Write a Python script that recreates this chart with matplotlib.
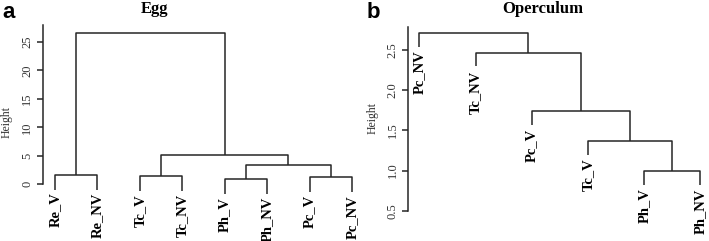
import matplotlib
matplotlib.use("Agg")
import matplotlib.pyplot as plt

# Egg dendrogram
egg_leaves = ["Re_V", "Re_NV", "Tc_V", "Tc_NV", "Ph_V", "Ph_NV", "Pc_V", "Pc_NV"]
egg_left = [0, 2, 4, 6, 10, 9, 8]
egg_right = [1, 3, 5, 7, 11, 12, 13]
egg_height = [1.63, 1.40, 0.88, 1.23, 3.44, 5.20, 26.5]
egg_ticks = [0, 5, 10, 15, 20, 25]

# Operculum dendrogram
op_leaves = ["Pc_NV", "Tc_NV", "Pc_V", "Tc_V", "Ph_V", "Ph_NV"]
op_left = [4, 3, 2, 1, 0]
op_right = [5, 6, 7, 8, 9]
op_height = [0.997, 1.37, 1.74, 2.467, 2.715]
op_ticks = [0.5, 1.0, 1.5, 2.0, 2.5]

W, H = 709, 241
serif = "Liberation Serif"
lc = "#262626"


def dendro(ax, leaves, left, right, heights, ticks, label_gap, fmt):
    n = len(leaves)
    xs = list(range(1, n + 1))
    ys = [None] * n
    hang = 0.1 * (max(heights) - min(heights))
    # leaf bottoms hang below their parent merge
    for k in range(len(heights)):
        for c in (left[k], right[k]):
            if c < n:
                ys[c] = heights[k] - hang
    for k in range(len(heights)):
        a, b = left[k], right[k]
        h = heights[k]
        ax.plot([xs[a], xs[a], xs[b], xs[b]], [ys[a], h, h, ys[b]],
                color=lc, lw=1.1, solid_capstyle="butt")
        xs.append((xs[a] + xs[b]) / 2)
        ys.append(h)
    for i, name in enumerate(leaves):
        ax.annotate(name, (xs[i], ys[i]), xytext=(0, -label_gap),
                    textcoords="offset pixels", rotation=90, ha="center",
                    va="top", fontsize=10.5, fontweight="bold", family=serif)
    for s in ("top", "right", "bottom"):
        ax.spines[s].set_visible(False)
    ax.spines["left"].set_bounds(ticks[0], ax.get_ylim()[1])
    ax.spines["left"].set_color(lc)
    ax.spines["left"].set_linewidth(1.1)
    ax.set_xticks([])
    ax.set_yticks(ticks)
    ax.set_yticklabels([fmt % t for t in ticks], family=serif)
    ax.tick_params(axis="y", labelrotation=90, labelsize=9, length=4.5,
                   width=1.1, pad=2.5, color=lc, labelcolor="#333333")
    for lab in ax.get_yticklabels():
        lab.set_va("center")


fig = plt.figure(figsize=(W / 100, H / 100), dpi=100)

# panel a: axes spans x 43..364 px, y 25..200 px
axa = fig.add_axes([43 / W, 1 - 200 / H, (364 - 43) / W, (200 - 25) / H])
axa.set_xlim(0.7175, 8.28)
axa.set_ylim(-2.754, 27.95)
dendro(axa, egg_leaves, egg_left, egg_right, egg_height, egg_ticks, 3, "%d")

# panel b: axes spans x 408..709 px, y 26.7..220 px
axb = fig.add_axes([408.3 / W, 1 - 220 / H, (709 - 408.3) / W, (220 - 26.7) / H])
axb.set_xlim(0.804, 6.155)
axb.set_ylim(0.384, 2.79)
dendro(axb, op_leaves, op_left, op_right, op_height, op_ticks, 4, "%.1f")

fig.text(155 / W, 1 - 9 / H, "Egg", ha="center", va="center", fontsize=12,
         fontweight="bold", family=serif)
fig.text(543 / W, 1 - 9 / H, "Operculum", ha="center", va="center", fontsize=12,
         fontweight="bold", family=serif)
fig.text(7 / W, 1 - 122 / H, "Height", ha="center", va="center", rotation=90,
         fontsize=8.5, family=serif, color="#333333")
fig.text(373 / W, 1 - 118 / H, "Height", ha="center", va="center", rotation=90,
         fontsize=8.5, family=serif, color="#333333")
fig.text(2 / W, 1 - 18 / H, "a", ha="left", va="baseline", fontsize=16,
         fontweight="bold", family="Liberation Sans")
fig.text(367 / W, 1 - 18 / H, "b", ha="left", va="baseline", fontsize=16,
         fontweight="bold", family="Liberation Sans")

fig.savefig("out.png", dpi=100)
